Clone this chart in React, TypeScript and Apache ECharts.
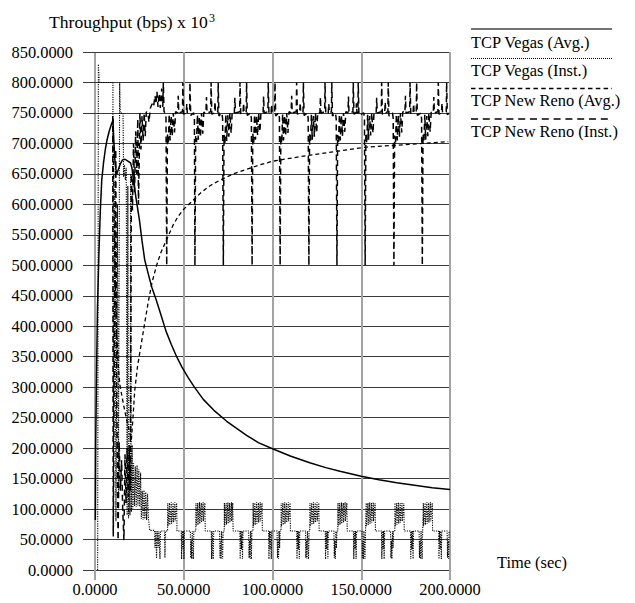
import React, { useEffect, useRef } from "react";
import * as echarts from "echarts";

type P = [number, number];

// X / Y axis ranges and tick steps
const xTicks = [0, 50, 100, 150, 200];
const yMax = 850;
const yStep = 50;

// Legend labels
const legendNames = [
  "TCP Vegas (Avg.)",
  "TCP Vegas (Inst.)",
  "TCP New Reno (Avg.)",
  "TCP New Reno (Inst.)",
];

// TCP Vegas (Avg.)
const vegasAvg: P[] = [
  [0.2, 82], [0.4, 210], [0.9, 330], [1.4, 430], [2.2, 520], [3.0, 590], [3.8, 640], [4.8, 668],
  [5.8, 690], [6.8, 706], [8.0, 720], [9.2, 731], [10.1, 738], [10.6, 705], [11.3, 668], [12.2, 649],
  [13.0, 656], [14.2, 666], [15.5, 673], [17.0, 674], [18.5, 671], [20.0, 668], [20.8, 660], [22.4, 624],
  [23.5, 603], [25.0, 575], [26.5, 540], [28.0, 509], [30.0, 486], [32.0, 464], [34.5, 443], [37.0, 420],
  [40.0, 392], [43.0, 370], [46.0, 350], [49.0, 333], [52.4, 316], [56.0, 300], [61.0, 280], [67.0, 262],
  [74.2, 244], [80.0, 232], [85.4, 221], [92.0, 209], [100, 199], [110, 187], [121, 176], [130, 168],
  [138, 162], [150, 154], [160, 148], [170, 143], [180, 139], [190, 135], [200, 132],
];

// TCP Vegas (Inst.) — start-up phase
const vegasInstStart: P[] = [
  [1.5, 0], [1.9, 830], [2.4, 800], [10.1, 800], [10.4, 60], [11.2, 640], [11.8, 80], [12.6, 600],
  [13.2, 120], [13.9, 800], [14.2, 750], [15.8, 750], [16.1, 645], [16.6, 665], [17.1, 640], [17.6, 660],
  [18.1, 90], [18.5, 630], [18.9, 85], [19.3, 200], [19.7, 90], [20.1, 650], [20.5, 95], [20.9, 205],
  [21.3, 100], [21.7, 175], [22.2, 105], [22.7, 170], [23.2, 104], [23.7, 172], [24.2, 106], [24.7, 165],
  [25.2, 104], [25.7, 160], [26.1, 84], [26.6, 130], [27.1, 82], [27.6, 131], [28.1, 84], [28.6, 128],
  [29.1, 82], [29.6, 125], [30.1, 85], [30.8, 65], [33.6, 65], [33.8, 36], [34.2, 64], [34.7, 19],
  [35.0, 64], [35.6, 36], [36.0, 64], [36.6, 18], [36.9, 64], [39.2, 64], [39.4, 20], [39.7, 64],
];

// TCP Vegas (Inst.) — steady phase, one list per ~16 s cycle
const vegasInstCycles: P[][] = [
  [[40.9, 64], [41.0, 110], [41.1, 72], [42.0, 110], [42.1, 74], [43.0, 111], [43.1, 76], [44.0, 110], [44.1, 78], [45.0, 111], [45.1, 80], [46.0, 110], [46.2, 64], [48.6, 64], [48.8, 18], [49.1, 64], [49.5, 34], [49.8, 64], [50.1, 18], [50.4, 64], [53.7, 64], [53.9, 20], [54.2, 48], [54.5, 18], [54.8, 64], [55.1, 36], [55.4, 18], [55.7, 64]],
  [[56.8, 64], [56.9, 110], [57.0, 72], [57.9, 110], [58.0, 74], [58.9, 111], [59.0, 76], [59.9, 110], [60.0, 78], [60.9, 111], [61.0, 80], [61.9, 110], [62.1, 64], [65.5, 64], [65.7, 18], [66.0, 64], [66.3, 34], [66.6, 18], [66.9, 64], [70.2, 64], [70.4, 20], [70.7, 48], [71.0, 18], [71.3, 64], [71.6, 36], [71.9, 18], [72.2, 64]],
  [[72.8, 64], [72.9, 110], [73.0, 72], [73.9, 110], [74.0, 74], [74.9, 111], [75.0, 76], [75.9, 110], [76.0, 78], [76.9, 111], [77.0, 80], [77.6, 110], [77.8, 64], [81.6, 64], [81.8, 18], [82.1, 64], [82.5, 34], [82.8, 64], [83.1, 18], [83.4, 64], [86.6, 64], [86.8, 20], [87.1, 48], [87.4, 18], [87.7, 64], [88.0, 36], [88.1, 18], [88.4, 64]],
  [[89.0, 64], [89.1, 110], [89.2, 72], [90.1, 110], [90.2, 74], [91.1, 111], [91.2, 76], [92.1, 110], [92.2, 78], [93.1, 111], [93.2, 80], [94.1, 110], [94.3, 64], [97.8, 64], [98.0, 18], [98.3, 64], [98.7, 34], [99.0, 64], [99.3, 18], [99.6, 64], [102.6, 64], [102.8, 20], [103.1, 48], [103.4, 18], [103.7, 64], [104.0, 36], [104.3, 64]],
  [[104.8, 64], [104.9, 110], [105.0, 72], [105.9, 110], [106.0, 74], [106.9, 111], [107.0, 76], [107.9, 110], [108.0, 78], [108.9, 111], [109.0, 80], [109.9, 110], [110.1, 64], [113.6, 64], [113.8, 18], [114.1, 64], [114.5, 34], [114.8, 64], [115.1, 18], [115.4, 64], [118.6, 64], [118.8, 20], [119.1, 48], [119.4, 18], [119.7, 64], [120.0, 36], [120.3, 18], [120.6, 64]],
  [[121.0, 64], [121.1, 110], [121.2, 72], [122.1, 110], [122.2, 74], [123.1, 111], [123.2, 76], [124.1, 110], [124.2, 78], [125.1, 111], [125.2, 80], [126.1, 110], [126.3, 64], [129.7, 64], [129.9, 18], [130.2, 64], [130.6, 34], [130.9, 64], [131.2, 18], [131.5, 64], [134.6, 64], [134.8, 20], [135.1, 48], [135.4, 18], [135.7, 64], [136.0, 36], [136.3, 64]],
  [[136.8, 64], [136.9, 110], [137.0, 72], [137.9, 110], [138.0, 74], [138.9, 111], [139.0, 76], [139.9, 110], [140.0, 78], [140.9, 111], [141.0, 80], [141.9, 110], [142.1, 64], [145.6, 64], [145.8, 18], [146.1, 64], [146.5, 34], [146.8, 64], [147.1, 18], [147.4, 64], [150.4, 64], [150.6, 20], [150.9, 48], [151.2, 18], [151.5, 64], [151.8, 36], [152.1, 18], [152.4, 64]],
  [[152.7, 64], [152.8, 110], [152.9, 72], [153.8, 110], [153.9, 74], [154.8, 111], [154.9, 76], [155.8, 110], [155.9, 78], [156.8, 111], [156.9, 80], [157.8, 110], [158.0, 64], [161.4, 64], [161.6, 18], [161.9, 64], [162.3, 34], [162.6, 64], [162.9, 18], [163.2, 64], [166.5, 64], [166.7, 20], [167.0, 48], [167.3, 18], [167.6, 64], [167.9, 36], [168.2, 64]],
  [[168.9, 64], [169.0, 110], [169.1, 72], [170.0, 110], [170.1, 74], [171.0, 111], [171.1, 76], [172.0, 110], [172.1, 78], [173.0, 111], [173.1, 80], [174.0, 110], [174.2, 64], [177.7, 64], [177.9, 18], [178.2, 64], [178.6, 34], [178.9, 64], [179.2, 18], [179.5, 64], [182.6, 64], [182.8, 20], [183.1, 48], [183.4, 18], [183.7, 64], [184.0, 36], [184.3, 18], [184.6, 64]],
  [[184.9, 64], [185.0, 110], [185.1, 72], [186.0, 110], [186.1, 74], [187.0, 111], [187.1, 76], [188.0, 110], [188.1, 78], [189.0, 111], [189.1, 80], [190.0, 110], [190.2, 64], [193.6, 64], [193.8, 18], [194.1, 64], [194.5, 34], [194.8, 64], [195.1, 18], [195.4, 64], [198.4, 64], [198.6, 20], [198.9, 48], [199.2, 18], [199.5, 64], [199.9, 64]],
];

// TCP New Reno (Avg.)
const renoAvg: P[] = [
  [10.2, 740], [10.6, 620], [11.2, 500], [12.0, 400], [13.0, 340], [13.9, 306], [15.5, 280], [17.0, 258],
  [18.5, 238], [19.8, 222], [20.5, 214], [21.4, 250], [22.4, 295], [24.0, 335], [26.0, 370], [28.0, 405],
  [30.0, 440], [32.0, 470], [34.5, 498], [37.0, 520], [41.1, 547], [44.0, 566], [46.8, 580], [50.0, 592],
  [55.4, 607], [60.0, 620], [65.0, 631], [70.0, 639], [78.0, 650], [87.0, 659], [93.0, 665], [100.5, 671],
  [115.0, 678], [134.0, 686], [153.0, 694], [170.0, 697], [185.0, 700], [199.0, 703],
];

// TCP New Reno (Inst.) — start-up phase
const renoInstStart: P[] = [
  [10.0, 745], [10.3, 55], [11.0, 420], [11.7, 690], [12.2, 300], [13.0, 49], [13.6, 210], [14.3, 130],
  [15.0, 180], [15.6, 100], [16.3, 49], [16.9, 190], [17.5, 110], [18.1, 200], [18.7, 120], [19.3, 205],
  [19.9, 130], [20.5, 650], [21.1, 590], [21.7, 700], [22.3, 620], [22.9, 720], [23.5, 650], [24.1, 740],
  [24.5, 600], [25.3, 750], [25.9, 690], [26.5, 745], [27.1, 705], [27.7, 750], [28.3, 712], [28.9, 752],
  [29.8, 750], [30.4, 735], [31.2, 758], [32.2, 765], [33.0, 760], [33.8, 778], [34.4, 765], [34.9, 785],
  [35.5, 760], [36.2, 782], [36.8, 758], [37.6, 790], [38.2, 760], [38.5, 800], [38.9, 752], [39.6, 750],
  [40.0, 742],
];

// TCP New Reno (Inst.) — steady phase, one list per cycle (each starts with the drop to 500)
const renoInstCycles: P[][] = [
  [[40.4, 500], [40.8, 715], [41.3, 700], [41.8, 748], [42.3, 705], [42.9, 745], [43.5, 712], [44.1, 750], [44.8, 718], [45.4, 752], [46.6, 750], [46.9, 778], [47.2, 750], [49.3, 752], [49.5, 800], [49.9, 748], [51.4, 750], [51.7, 765], [52.0, 750], [53.3, 752], [53.5, 800], [53.9, 746], [55.6, 750], [56.0, 742]],
  [[56.3, 500], [56.7, 712], [57.2, 702], [57.7, 747], [58.2, 706], [58.8, 744], [59.4, 710], [60.0, 750], [60.7, 716], [61.3, 751], [62.5, 750], [62.8, 776], [63.1, 750], [65.2, 752], [65.4, 800], [65.8, 748], [67.3, 750], [67.6, 768], [67.9, 750], [69.2, 752], [69.4, 800], [69.8, 745], [71.5, 750], [71.9, 740]],
  [[72.3, 500], [72.7, 714], [73.2, 700], [73.7, 748], [74.2, 704], [74.8, 746], [75.4, 711], [76.0, 750], [76.7, 717], [77.3, 752], [78.5, 750], [78.8, 775], [79.1, 750], [81.5, 752], [81.7, 800], [82.1, 748], [83.4, 750], [83.7, 766], [84.0, 750], [85.2, 752], [85.4, 800], [85.8, 746], [87.6, 750], [88.1, 741]],
  [[88.5, 500], [88.9, 716], [89.4, 701], [89.9, 747], [90.4, 706], [91.0, 745], [91.6, 713], [92.2, 750], [92.9, 719], [93.5, 751], [94.7, 750], [95.0, 777], [95.3, 750], [97.4, 752], [97.6, 800], [98.0, 748], [99.2, 750], [99.5, 764], [99.8, 750], [101.2, 752], [101.4, 800], [101.8, 745], [103.5, 750], [103.9, 742]],
  [[104.3, 500], [104.7, 713], [105.2, 700], [105.7, 748], [106.2, 705], [106.8, 746], [107.4, 712], [108.0, 750], [108.7, 717], [109.3, 752], [110.5, 750], [110.8, 778], [111.1, 750], [113.4, 752], [113.6, 800], [114.0, 748], [115.3, 750], [115.6, 767], [115.9, 750], [117.2, 752], [117.4, 800], [117.8, 746], [119.7, 750], [120.1, 741]],
  [[120.5, 500], [120.9, 715], [121.4, 702], [121.9, 747], [122.4, 706], [123.0, 745], [123.6, 711], [124.2, 750], [124.9, 718], [125.5, 751], [126.7, 750], [127.0, 776], [127.3, 750], [129.4, 752], [129.6, 800], [130.0, 748], [131.4, 750], [131.7, 765], [132.0, 750], [133.2, 752], [133.4, 800], [133.8, 745], [135.5, 750], [135.9, 740]],
  [[136.3, 500], [136.7, 714], [137.2, 701], [137.7, 748], [138.2, 705], [138.8, 746], [139.4, 712], [140.0, 750], [140.7, 719], [141.3, 752], [142.5, 750], [142.8, 777], [143.1, 750], [145.3, 752], [145.5, 800], [145.9, 748], [147.0, 750], [147.3, 766], [147.6, 750], [148.1, 752], [148.3, 800], [148.7, 746], [151.4, 750], [151.8, 742]],
  [[152.2, 500], [152.6, 716], [153.1, 700], [153.6, 747], [154.1, 706], [154.7, 745], [155.3, 713], [155.9, 750], [156.6, 717], [157.2, 751], [158.4, 750], [158.7, 775], [159.0, 750], [161.3, 752], [161.5, 800], [161.9, 748], [163.2, 750], [163.5, 768], [163.8, 750], [165.0, 752], [165.2, 800], [165.6, 745], [167.6, 750], [168.0, 741]],
  [[168.4, 500], [168.8, 713], [169.3, 701], [169.8, 748], [170.3, 705], [170.9, 746], [171.5, 711], [172.1, 750], [172.8, 718], [173.4, 752], [174.6, 750], [174.9, 778], [175.2, 750], [177.3, 752], [177.5, 800], [177.9, 748], [179.2, 750], [179.5, 765], [179.8, 750], [181.0, 752], [181.2, 800], [181.6, 746], [183.6, 750], [184.0, 740]],
  [[184.4, 500], [184.8, 715], [185.3, 702], [185.8, 747], [186.3, 706], [186.9, 745], [187.5, 712], [188.1, 750], [188.8, 719], [189.4, 751], [190.6, 750], [190.9, 776], [191.2, 750], [193.2, 752], [193.4, 800], [193.8, 748], [195.2, 750], [195.5, 766], [195.8, 750], [197.9, 752], [198.1, 800], [198.5, 747], [199.6, 750]],
];

const FONT = "'Liberation Serif', 'Times New Roman', serif";
const FS = 16.4;
const TITLE_FS = 17.6;
const H_GRID = "#3a3a3a";
const V_GRID = "#a3a3a3";

const vegasInst: P[] = vegasInstStart.concat(...vegasInstCycles);
const renoInst: P[] = renoInstStart.concat(...renoInstCycles);

export default function App() {
  const ref = useRef<HTMLDivElement>(null);

  useEffect(() => {
    if (!ref.current) return;
    const chart = echarts.init(ref.current, undefined, { renderer: "svg" });
    const fmt = (v: number) => v.toFixed(4);

    const legendY = [29, 58.5, 88.5, 119];
    const textY = [42, 70.5, 100, 131.5];
    const legendStyles: any[] = [
      { stroke: "#444", lineWidth: 1.6 },
      { stroke: "#000", lineWidth: 1.1, lineDash: [1, 1] },
      { stroke: "#000", lineWidth: 1.4, lineDash: [4.5, 3.3] },
      { stroke: "#000", lineWidth: 1.4, lineDash: [7, 4.8] },
    ];
    const legendGraphics: any[] = [];
    legendNames.forEach((name, i) => {
      legendGraphics.push({
        type: "line",
        shape: { x1: 471, y1: legendY[i], x2: 612, y2: legendY[i] },
        style: legendStyles[i],
        silent: true,
      });
      legendGraphics.push({
        type: "text",
        x: 471,
        y: textY[i],
        style: { text: name, font: `${FS}px ${FONT}`, fill: "#000", verticalAlign: "middle", align: "left" },
        silent: true,
      });
    });

    const option: any = {
      animation: false,
      backgroundColor: "#fff",
      grid: { left: 95, top: 52, width: 355, height: 518, containLabel: false },
      xAxis: [
        {
          type: "value",
          min: xTicks[0],
          max: xTicks[xTicks.length - 1],
          interval: xTicks[1] - xTicks[0],
          axisLine: { show: false },
          axisTick: { show: true, length: 10, lineStyle: { color: V_GRID, width: 2 } },
          axisLabel: { margin: 11, formatter: fmt, color: "#000", fontFamily: FONT, fontSize: FS },
          splitLine: { show: true, lineStyle: { color: V_GRID, width: 2 } },
        },
        {
          type: "value",
          position: "top",
          min: xTicks[0],
          max: xTicks[xTicks.length - 1],
          interval: xTicks[1] - xTicks[0],
          axisLine: { show: false },
          axisTick: { show: true, length: 8, lineStyle: { color: V_GRID, width: 2 } },
          axisLabel: { show: false },
          splitLine: { show: false },
        },
      ],
      yAxis: [
        {
          type: "value",
          min: 0,
          max: yMax,
          interval: yStep,
          axisLine: { show: false },
          axisTick: { show: true, length: 12, lineStyle: { color: H_GRID, width: 1 } },
          axisLabel: { margin: 22, formatter: fmt, color: "#000", fontFamily: FONT, fontSize: FS },
          splitLine: { show: true, lineStyle: { color: H_GRID, width: 1 } },
        },
        {
          type: "value",
          position: "right",
          min: 0,
          max: yMax,
          interval: yStep,
          axisLine: { show: false },
          axisTick: { show: true, length: 13, lineStyle: { color: H_GRID, width: 1 } },
          axisLabel: { show: false },
          splitLine: { show: false },
        },
      ],
      series: [
        {
          name: legendNames[1],
          type: "line",
          data: vegasInst,
          showSymbol: false,
          symbol: "none",
          lineStyle: { color: "#000", width: 1.1, type: [1.2, 1.2] },
          z: 3,
        },
        {
          name: legendNames[3],
          type: "line",
          data: renoInst,
          showSymbol: false,
          symbol: "none",
          lineStyle: { color: "#000", width: 1.5, type: [6, 4] },
          z: 4,
        },
        {
          name: legendNames[2],
          type: "line",
          data: renoAvg,
          showSymbol: false,
          symbol: "none",
          lineStyle: { color: "#000", width: 1.3, type: [4, 3] },
          z: 5,
        },
        {
          name: legendNames[0],
          type: "line",
          data: vegasAvg,
          showSymbol: false,
          symbol: "none",
          smooth: false,
          lineStyle: { color: "#000", width: 1.5 },
          z: 6,
        },
      ],
      graphic: [
        {
          type: "text",
          x: 49,
          y: 22,
          style: { text: "Throughput (bps) x 10", font: `${TITLE_FS}px ${FONT}`, fill: "#000", verticalAlign: "middle", align: "left" },
          silent: true,
        },
        {
          type: "text",
          x: 209,
          y: 18,
          style: { text: "3", font: `12px ${FONT}`, fill: "#000", verticalAlign: "middle", align: "left" },
          silent: true,
        },
        {
          type: "text",
          x: 497,
          y: 562.5,
          style: { text: "Time (sec)", font: `${FS}px ${FONT}`, fill: "#000", verticalAlign: "middle", align: "left" },
          silent: true,
        },
        ...legendGraphics,
      ],
    };
    chart.setOption(option);
    return () => chart.dispose();
  }, []);

  return (
    <div
      ref={ref}
      style={{ position: "fixed", left: 0, top: 0, width: 635, height: 603, background: "#fff" }}
    />
  );
}
